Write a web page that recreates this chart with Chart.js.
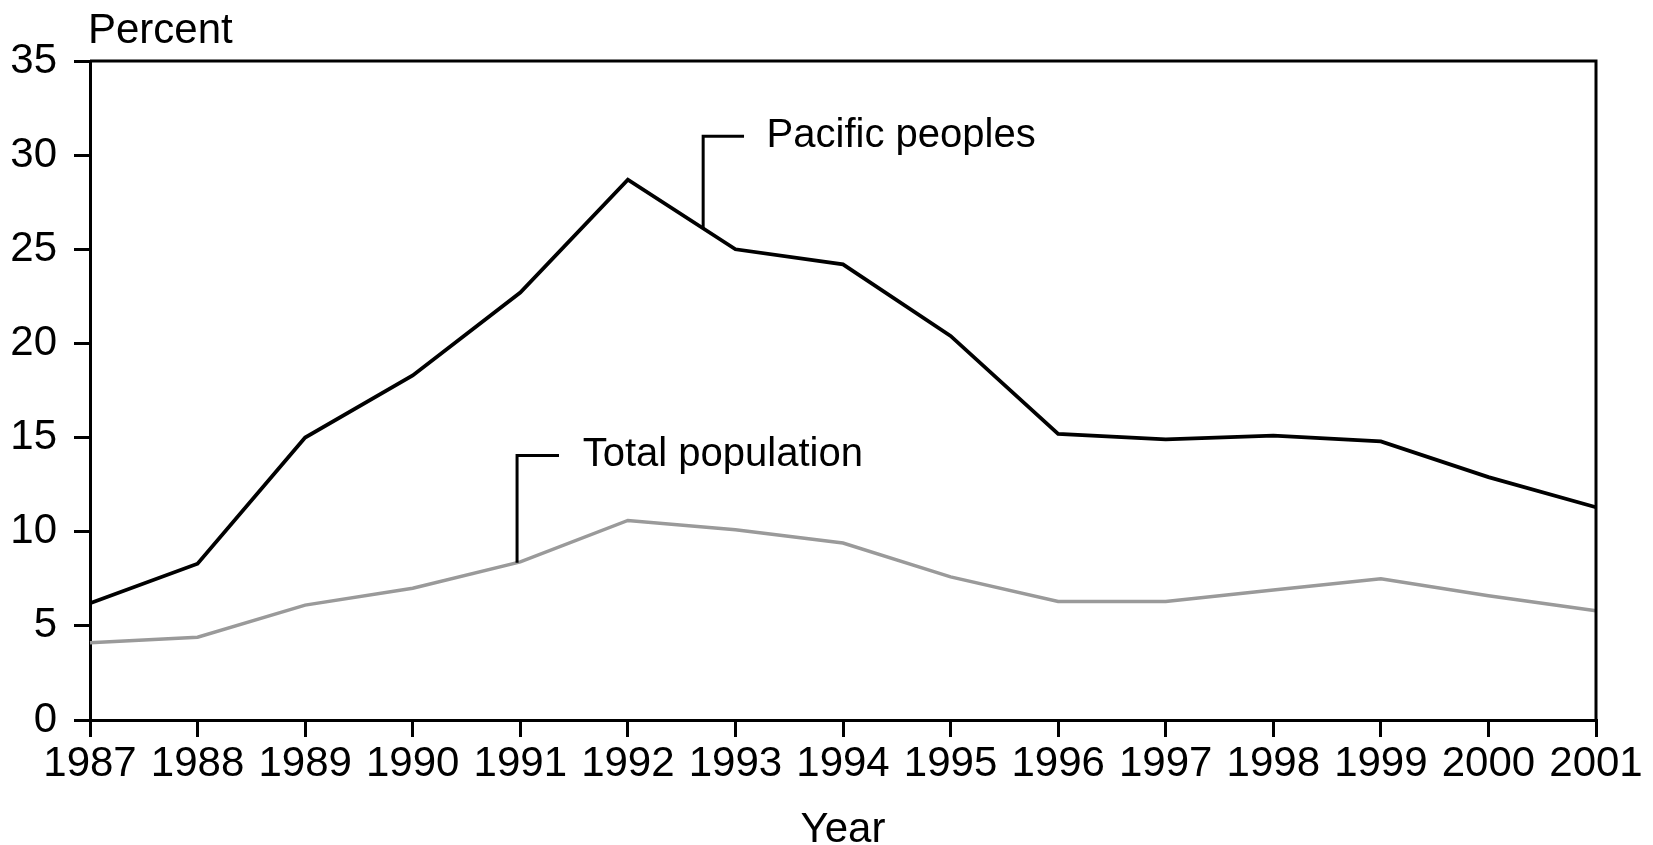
<!DOCTYPE html>
<html>
<head>
<meta charset="utf-8">
<script src="https://cdn.jsdelivr.net/npm/chart.js@4"></script>
<style>
  body { margin: 0; background: #fff; }
  canvas { display: block; }
</style>
</head>
<body>
<canvas id="rateChart" width="1653" height="845"></canvas>
<script>
const years = ['1987', '1988', '1989', '1990', '1991', '1992', '1993', '1994',
               '1995', '1996', '1997', '1998', '1999', '2000', '2001'];
const pacificPeoples = [6.2, 8.3, 15.0, 18.3, 22.7, 28.7, 25.0, 24.2, 20.4, 15.2, 14.9, 15.1, 14.8, 12.9, 11.3];
const totalPopulation = [4.1, 4.4, 6.1, 7.0, 8.4, 10.6, 10.1, 9.4, 7.6, 6.3, 6.3, 6.9, 7.5, 6.6, 5.8];
const yTicks = [0, 5, 10, 15, 20, 25, 30, 35];

const FONT = '"Liberation Sans", Arial, sans-serif';

// leader lines with series labels, in data units (x = index along years)
const leaders = [
    {text: 'Pacific peoples', series: 0, at: 5.70, top: 31.0, end: 6.08, textAt: 6.29},
    {text: 'Total population', series: 1, at: 3.97, top: 14.05, end: 4.36, textAt: 4.58}
];

function valueAt(arr, pos) {
    const i = Math.floor(pos);
    const f = pos - i;
    if (i >= arr.length - 1) return arr[arr.length - 1];
    return arr[i] + (arr[i + 1] - arr[i]) * f;
}

const extras = {
    id: 'extras',
    afterDraw(chart) {
        const {ctx, chartArea, scales} = chart;
        const x = scales.x, y = scales.y;
        ctx.save();
        ctx.strokeStyle = '#000';
        ctx.lineWidth = 3;
        // top and right frame
        ctx.beginPath();
        ctx.moveTo(chartArea.left, chartArea.top);
        ctx.lineTo(chartArea.right, chartArea.top);
        ctx.lineTo(chartArea.right, chartArea.bottom);
        ctx.stroke();

        ctx.font = '40px ' + FONT;
        ctx.fillStyle = '#000';
        ctx.textBaseline = 'middle';
        ctx.textAlign = 'left';
        leaders.forEach(l => {
            const data = chart.data.datasets[l.series].data;
            const px = x.getPixelForValue(l.at);
            const pyLine = y.getPixelForValue(valueAt(data, l.at));
            const pyTop = y.getPixelForValue(l.top);
            ctx.beginPath();
            ctx.moveTo(px, pyLine);
            ctx.lineTo(px, pyTop);
            ctx.lineTo(x.getPixelForValue(l.end), pyTop);
            ctx.stroke();
            ctx.fillText(l.text, x.getPixelForValue(l.textAt), pyTop);
        });

        ctx.font = '42px ' + FONT;
        ctx.fillText('Percent', chartArea.left - 2, 31);
        ctx.restore();
    }
};

new Chart(document.getElementById('rateChart'), {
    type: 'line',
    data: {
        labels: years,
        datasets: [
            {
                label: 'Pacific peoples',
                data: pacificPeoples,
                borderColor: '#000',
                borderWidth: 3.8,
                pointRadius: 0,
                tension: 0
            },
            {
                label: 'Total population',
                data: totalPopulation,
                borderColor: '#9a9a9a',
                borderWidth: 3.5,
                pointRadius: 0,
                tension: 0
            }
        ]
    },
    options: {
        responsive: false,
        animation: false,
        devicePixelRatio: 1,
        layout: {padding: {top: 61, right: 57, left: 0, bottom: 0}},
        plugins: {
            legend: {display: false},
            tooltip: {enabled: false}
        },
        scales: {
            x: {
                grid: {drawOnChartArea: false, color: '#000', lineWidth: 3, tickLength: 17},
                border: {display: true, color: '#000', width: 3},
                ticks: {color: '#000', font: {family: FONT, size: 42}, padding: 2, maxRotation: 0, autoSkip: false},
                title: {display: true, text: 'Year', color: '#000', font: {family: FONT, size: 42}, padding: {top: 0, bottom: -11}},
                afterFit(scale) { scale.height = 125; }
            },
            y: {
                min: 0,
                max: 35,
                afterBuildTicks(scale) { scale.ticks = yTicks.map(v => ({value: v})); },
                grid: {drawOnChartArea: false, color: '#000', lineWidth: 3, tickLength: 16},
                border: {display: true, color: '#000', width: 3},
                ticks: {color: '#000', font: {family: FONT, size: 42}, padding: 17},
                afterFit(scale) { scale.width = 90; }
            }
        }
    },
    plugins: [extras]
});
</script>
</body>
</html>
